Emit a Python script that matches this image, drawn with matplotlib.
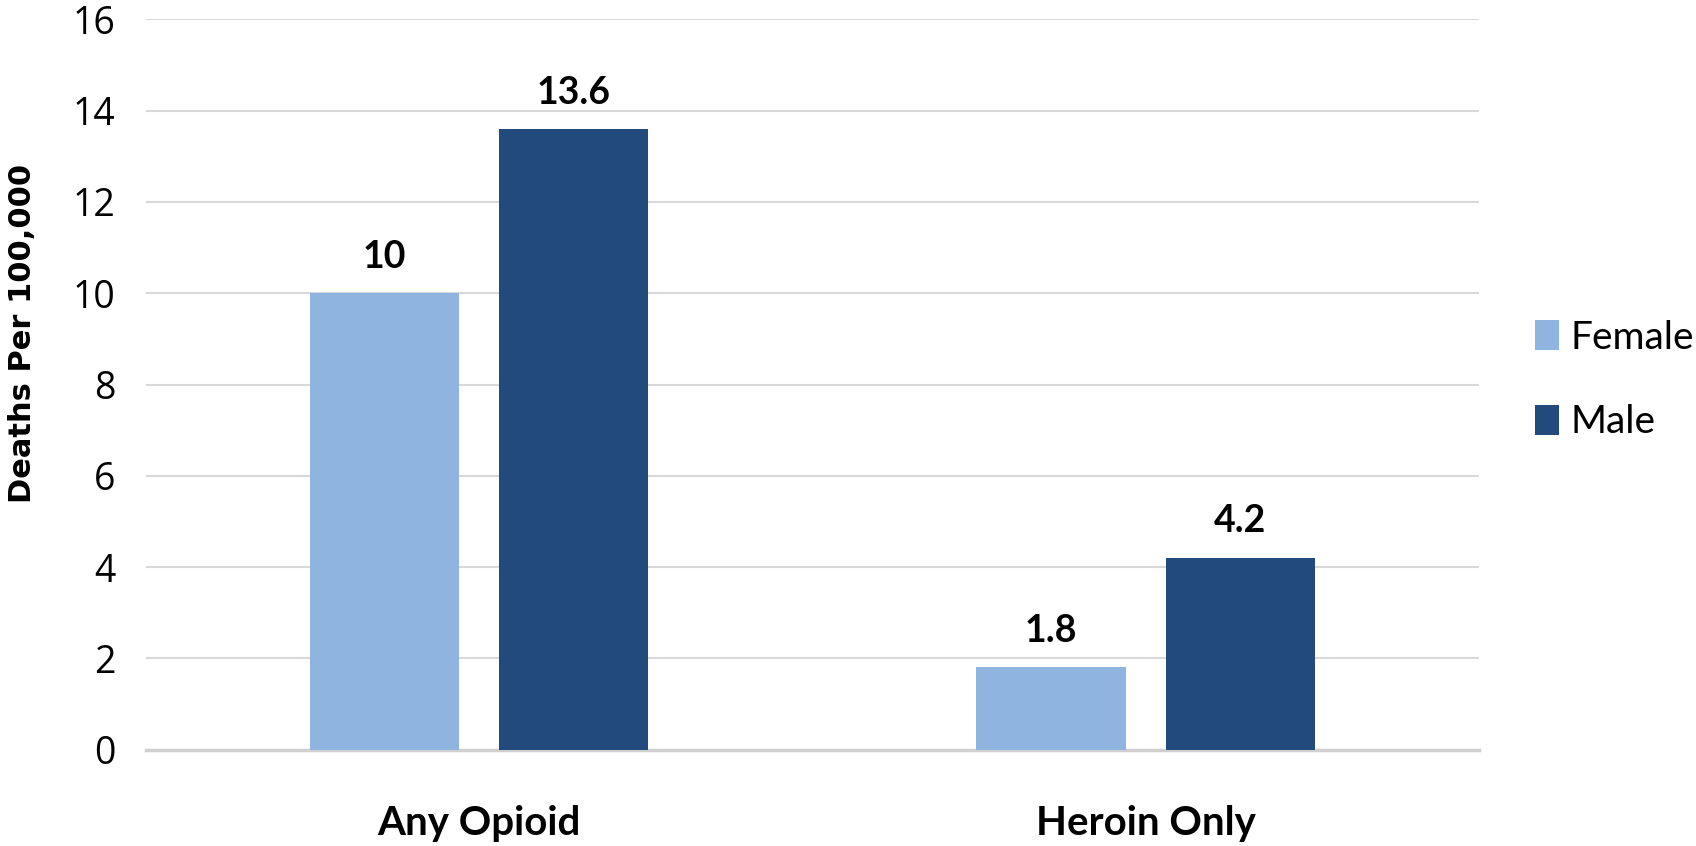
import matplotlib
matplotlib.use("Agg")
import matplotlib.pyplot as plt
import numpy as np

categories = ["Any Opioid", "Heroin Only"]
female = [10, 1.8]
male = [13.6, 4.2]
series_names = ["Female", "Male"]
yticks = [0, 2, 4, 6, 8, 10, 12, 14, 16]

txt_font = ["Lato", "DejaVu Sans"]
c_female = "#8FB4E0"
c_male = "#234A7C"

fig = plt.figure(figsize=(16.96, 8.46), dpi=100)
ax = fig.add_axes([0.086, 0.114, 0.786, 0.863])

x = np.arange(len(categories))
w = 0.224
off = 0.142
b1 = ax.bar(x - off, female, w, color=c_female, label=series_names[0], zorder=3)
b2 = ax.bar(x + off, male, w, color=c_male, label=series_names[1], zorder=3)

# value labels above bars
for bars, vals in ((b1, female), (b2, male)):
    for b, v in zip(bars, vals):
        ax.annotate(f"{v:g}", (b.get_x() + b.get_width() / 2, v),
                    xytext=(0, 14), textcoords="offset points",
                    ha="center", va="bottom", fontsize=27, fontweight="bold",
                    family=txt_font)

ax.set_xlim(-0.5, 1.5)
ax.set_ylim(0, 16)
ax.set_yticks(yticks)
ax.set_yticklabels([str(t) for t in yticks], fontsize=27, family="Open Sans")
ax.set_xticks(x)
ax.set_xticklabels(categories, fontsize=29, fontweight="bold", family=txt_font)
ax.tick_params(axis="y", length=0, pad=22)
ax.tick_params(axis="x", length=0, pad=40)

ax.yaxis.grid(True, color="#D9D9D9", linewidth=1.5, zorder=0)
for s in ("top", "right", "left"):
    ax.spines[s].set_visible(False)
ax.spines["bottom"].set_color("#D0D0D0")
ax.spines["bottom"].set_linewidth(2.5)

ax.set_ylabel("Deaths Per 100,000", fontsize=22, fontweight="bold")
ax.yaxis.set_label_coords(-0.0815, 0.57)

leg = ax.legend(loc="center left", bbox_to_anchor=(1.042, 0.506), frameon=False,
                prop={"family": txt_font, "size": 28}, handlelength=0.62,
                handleheight=0.82, handletextpad=0.3, labelspacing=1.25,
                borderpad=0, borderaxespad=0)

fig.savefig("out.png", dpi=100, facecolor="white")
